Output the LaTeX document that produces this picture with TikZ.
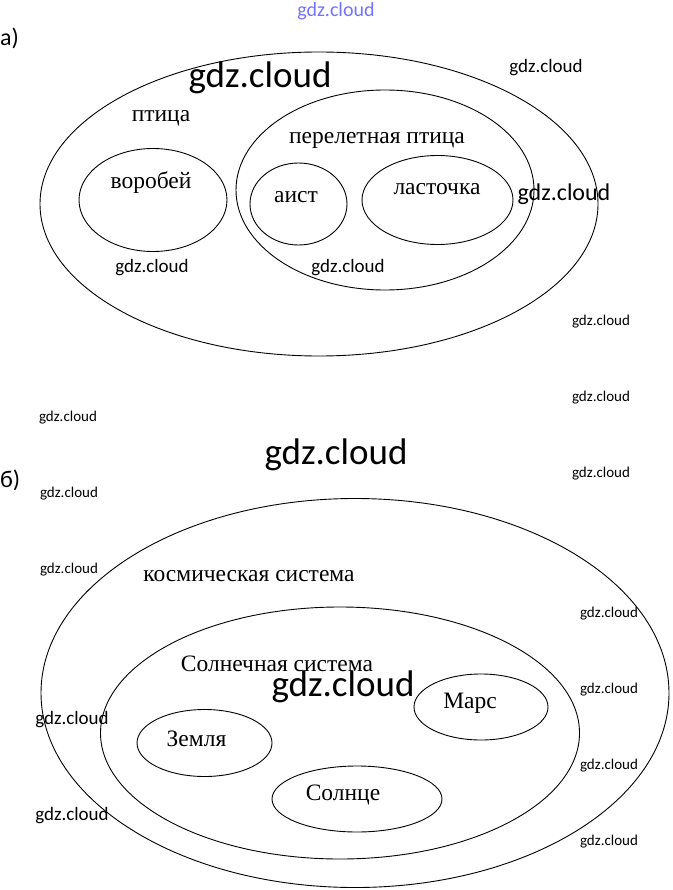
\documentclass[tikz,border=0pt]{standalone}
\usepackage{fontspec}
\setmainfont{Liberation Serif}
\newfontfamily\wm{Carlito}
\usetikzlibrary{shapes.geometric}
\tikzset{
 setshape/.style={draw, ellipse, line width=0.9pt, inner sep=0pt},
 lbl/.style={font=\fontsize{23.5}{25}\selectfont, inner sep=0pt},
 wms/.style={font=\wm\fontsize{15}{15}\selectfont, inner sep=0pt},
 wmm/.style={font=\wm\fontsize{19}{19}\selectfont, inner sep=0pt},
 wml/.style={font=\wm\fontsize{24}{24}\selectfont, inner sep=0pt},
 wmb/.style={font=\wm\fontsize{37}{37}\selectfont, inner sep=0pt},
 wmtop/.style={font=\wm\fontsize{20}{20}\selectfont, inner sep=0pt, text=blue!55!white},
 part/.style={font=\wm\fontsize{24}{24}\selectfont, inner sep=0pt, anchor=west},
}
\begin{document}
\begin{tikzpicture}[x=1pt,y=-1pt]
\useasboundingbox[fill=white] (0,0) rectangle (672,890);
% part a
\node[part] (pa) at (0,38) {а)};
\node[setshape, minimum width=558pt, minimum height=304pt] (bird) at (319,204) {};
\node[setshape, minimum width=298pt, minimum height=200pt] (migr) at (385,190) {};
\node[setshape, minimum width=148pt, minimum height=103pt] (sparrow) at (153,200) {};
\node[setshape, minimum width=97pt, minimum height=82pt] (stork) at (298.5,204) {};
\node[setshape, minimum width=151pt, minimum height=89pt] (swallow) at (437.5,200) {};
\node[lbl] (tbird) at (161,118) {птица};
\node[lbl] (tmigr) at (377,140) {перелетная птица};
\node[lbl] (tsparrow) at (151,183) {воробей};
\node[lbl] (tstork) at (296,197) {аист};
\node[lbl] (tswallow) at (437,189) {ласточка};
% part b
\node[part] (pb) at (0,480) {б)};
\node[setshape, minimum width=628pt, minimum height=389pt] (space) at (355,693) {};
\node[setshape, minimum width=479pt, minimum height=252pt] (solar) at (340,733) {};
\node[setshape, minimum width=135pt, minimum height=67pt] (earth) at (204.5,743) {};
\node[setshape, minimum width=134pt, minimum height=66pt] (mars) at (481,707) {};
\node[setshape, minimum width=170pt, minimum height=66pt] (sun) at (357,799) {};
\node[lbl] (tspace) at (249,576) {космическая система};
\node[lbl] (tsolar) at (277,664) {Солнечная система};
\node[lbl] (tearth) at (196.5,739) {Земля};
\node[lbl] (tmars) at (470,703) {Марс};
\node[lbl] (tsun) at (343,795) {Солнце};
% watermarks
\node[wmtop] (w0) at (336,11) {gdz.cloud};
\node[wmb] (w1) at (260,78) {gdz.cloud};
\node[wmm] (w2) at (546,68) {gdz.cloud};
\node[wml] (w3) at (564,194) {gdz.cloud};
\node[wmm] (w4) at (152,268) {gdz.cloud};
\node[wmm] (w5) at (348,268) {gdz.cloud};
\node[wms] (w6) at (601,322) {gdz.cloud};
\node[wms] (w7) at (601,398) {gdz.cloud};
\node[wms] (w8) at (68,418) {gdz.cloud};
\node[wmb] (w9) at (336,455) {gdz.cloud};
\node[wms] (w10) at (601,474) {gdz.cloud};
\node[wms] (w11) at (69,494) {gdz.cloud};
\node[wms] (w12) at (69,570) {gdz.cloud};
\node[wms] (w13) at (609,614) {gdz.cloud};
\node[wms] (w14) at (609,690) {gdz.cloud};
\node[wmb] (w15) at (343,687) {gdz.cloud};
\node[wmm] (w16) at (72,720) {gdz.cloud};
\node[wms] (w17) at (609,766) {gdz.cloud};
\node[wmm] (w18) at (72,816) {gdz.cloud};
\node[wms] (w19) at (609,842) {gdz.cloud};
\end{tikzpicture}
\end{document}
